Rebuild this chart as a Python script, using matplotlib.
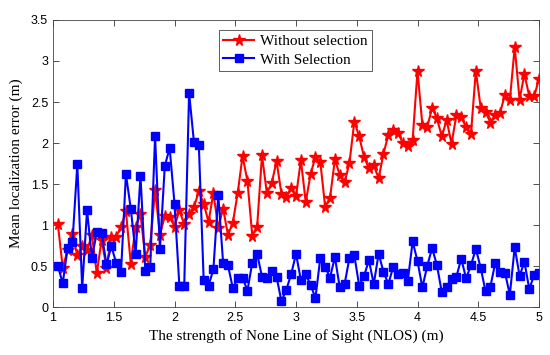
import numpy as np
import matplotlib
matplotlib.use("Agg")
import matplotlib.pyplot as plt

# strength of NLOS, 1.04 .. 5.00
nlos = np.round(1.0 + 0.04 * np.arange(1, 101), 2)

without_sel = [
    1.01, 0.48, 0.69, 0.89, 0.63, 0.74, 0.69, 0.88, 0.41, 0.82,
    0.48, 0.86, 0.86, 0.98, 1.17, 0.53, 0.98, 1.13, 0.61, 0.76,
    1.43, 0.88, 1.11, 1.10, 0.98, 1.18, 1.01, 1.14, 1.22, 1.41,
    1.26, 1.04, 1.39, 0.97, 1.20, 0.88, 1.03, 1.39, 1.84, 1.54,
    0.87, 0.98, 1.85, 1.39, 1.51, 1.78, 1.38, 1.34, 1.45, 1.35,
    1.79, 1.28, 1.62, 1.83, 1.77, 1.22, 1.33, 1.80, 1.61, 1.52,
    1.76, 2.26, 2.08, 1.83, 1.69, 1.73, 1.57, 1.87, 2.10, 2.16,
    2.12, 2.00, 1.96, 2.04, 2.88, 2.22, 2.19, 2.43, 2.30, 2.08,
    2.28, 1.99, 2.34, 2.32, 2.19, 2.11, 2.88, 2.43, 2.38, 2.25,
    2.34, 2.37, 2.59, 2.52, 3.17, 2.53, 2.84, 2.57, 2.57, 2.78,
]

with_sel = [
    0.50, 0.29, 0.72, 0.79, 1.74, 0.23, 1.18, 0.60, 0.91, 0.90,
    0.52, 0.74, 0.54, 0.43, 1.62, 1.20, 0.65, 1.60, 0.44, 0.49,
    2.08, 0.71, 1.72, 1.94, 1.26, 0.26, 0.26, 2.61, 2.01, 1.98,
    0.33, 0.26, 0.46, 1.37, 0.54, 0.51, 0.23, 0.35, 0.36, 0.20,
    0.54, 0.65, 0.37, 0.35, 0.44, 0.37, 0.07, 0.21, 0.40, 0.65,
    0.33, 0.40, 0.27, 0.11, 0.60, 0.49, 0.36, 0.61, 0.24, 0.28,
    0.60, 0.63, 0.26, 0.38, 0.57, 0.28, 0.65, 0.43, 0.28, 0.49,
    0.40, 0.41, 0.32, 0.80, 0.56, 0.24, 0.50, 0.72, 0.51, 0.18,
    0.24, 0.34, 0.37, 0.59, 0.35, 0.51, 0.71, 0.48, 0.19, 0.25,
    0.54, 0.43, 0.42, 0.15, 0.73, 0.38, 0.55, 0.22, 0.39, 0.42,
]

serif = ["Liberation Serif", "DejaVu Serif"]
sans = ["Liberation Sans", "DejaVu Sans"]

fig = plt.figure(figsize=(5.5, 3.55), dpi=100)
ax = fig.add_axes([0.0964, 0.135, 0.8836, 0.8087])

ax.plot(nlos, without_sel, color="red", lw=1.5, marker="*", ms=8.5,
        label="Without selection")
ax.plot(nlos, with_sel, color="blue", lw=1.5, marker="s", ms=5.5,
        label="With Selection")

ax.set_xlim(1, 5)
ax.set_ylim(0, 3.5)
ax.set_xticks([1, 1.5, 2, 2.5, 3, 3.5, 4, 4.5, 5])
ax.set_xticklabels(["1", "1.5", "2", "2.5", "3", "3.5", "4", "4.5", "5"])
ax.set_yticks([0, 0.5, 1, 1.5, 2, 2.5, 3, 3.5])
ax.set_yticklabels(["0", "0.5", "1", "1.5", "2", "2.5", "3", "3.5"])
ax.tick_params(direction="in", top=True, right=True, length=4,
               width=0.6, labelsize=9, colors="#333333")
for lab in ax.get_xticklabels() + ax.get_yticklabels():
    lab.set_family(sans)
    lab.set_color("black")
for sp in ax.spines.values():
    sp.set_linewidth(0.6)
    sp.set_color("#444444")

ax.set_xlabel("The strength of None Line of Sight (NLOS) (m)",
              family=serif, fontsize=11, labelpad=4)
ax.set_ylabel("Mean localization error (m)", family=serif, fontsize=11,
              labelpad=6)

leg = ax.legend(loc="upper left", bbox_to_anchor=(0.341, 0.965),
                borderaxespad=0,
                prop={"family": serif, "size": 11}, fancybox=False,
                edgecolor="#444444", framealpha=1, handlelength=2.0,
                borderpad=0.3, labelspacing=0.3, handletextpad=0.4)
leg.get_frame().set_linewidth(0.6)

fig.savefig("out.png", dpi=100)
